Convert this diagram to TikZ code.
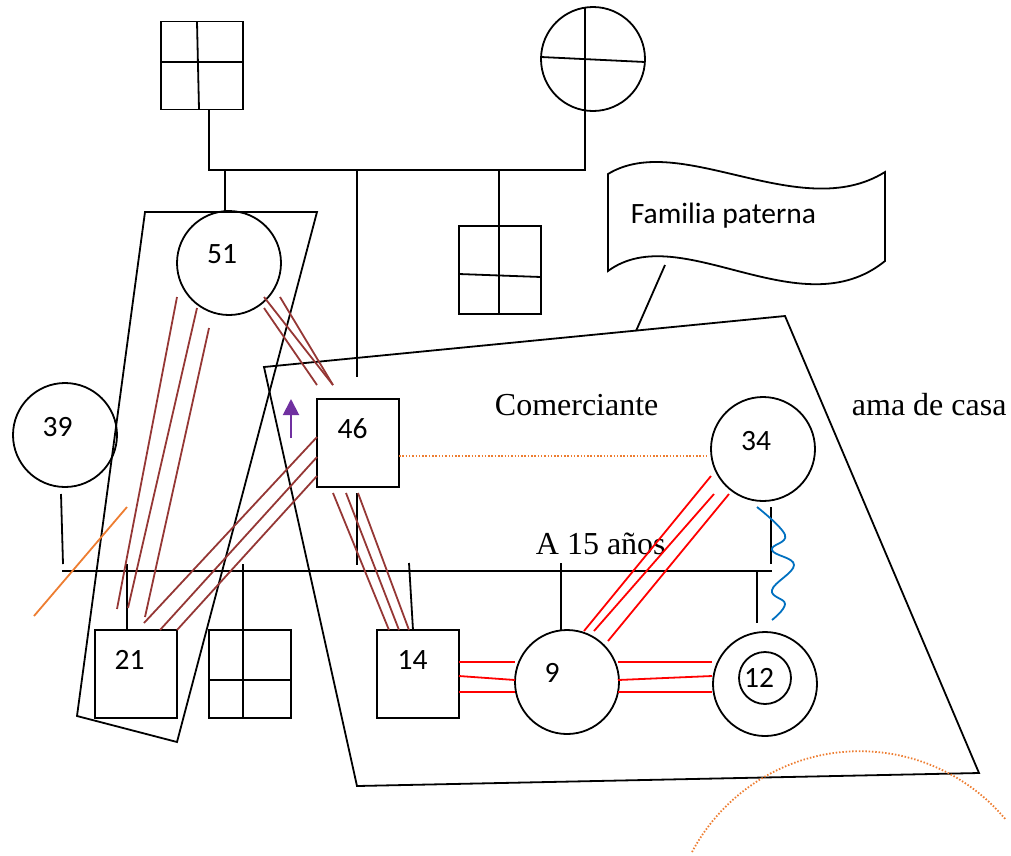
\documentclass[tikz,border=0pt]{standalone}
\usepackage{fontspec}
\setmainfont{Liberation Serif}
\newfontfamily\calib{Carlito}
\usetikzlibrary{arrows.meta}
\definecolor{brn}{RGB}{149,55,53}
\definecolor{org}{RGB}{237,125,49}
\definecolor{blu}{RGB}{0,112,192}
\definecolor{pur}{RGB}{112,48,160}
\definecolor{rd}{RGB}{255,0,0}
\begin{document}
\begin{tikzpicture}[x=1pt,y=-1pt, line width=1.8pt,
  person/.style={draw, line width=1.8pt, inner sep=0pt},
  sq/.style={person, rectangle, minimum width=82pt, minimum height=88pt},
  circ/.style={person, circle, minimum size=104pt},
  num/.style={font=\calib\fontsize{29.5}{34}\selectfont, inner sep=0pt, anchor=base},
  tms/.style={font=\fontsize{32}{38}\selectfont, inner sep=0pt, anchor=base west},
  brline/.style={brn, line width=1.8pt},
  rdline/.style={rd, line width=1.8pt},
  orgdot/.style={org, line width=1.8pt, dash pattern=on 1.5pt off 1.8pt}
]
\useasboundingbox (0,0) rectangle (1011,855);

% grandparents
\node[sq] (gf) at (202,65.5) {};
\draw (197,22) -- (199,109);
\draw (161,62) -- (243,62);
\node[circ] (gm) at (593,59) {};
\draw (541,57) -- (645,62);
\coordinate (famL) at (209,170);
\coordinate (famR) at (585,170);
\draw (585,7.6) -- (famR) -- (famL) -- (209,109);

% uncle
\node[sq] (u1) at (500,270) {};
\draw (499,170) -- (u1.south -| 499,0);
\draw (459,274) -- (541,277);

% left trapezoid
\draw (145,212) -- (317,212) -- (177,742) -- (77,716) -- cycle;
% right trapezoid
\draw (264,367) -- (785,316) -- (979,773) -- (357,786) -- cycle;

% banner
\draw (608,174) .. controls (680,130) and (800,225) .. (885,172) -- (885,261)
      .. controls (800,330) and (680,218) .. (608,271) -- cycle;
\node[font=\calib\fontsize{29.5}{34}\selectfont, inner sep=0pt, anchor=base west] (fp) at (630,223) {Familia paterna};
\draw (665,265) -- (636,331);

% 51
\node[circ] (p51) at (229,263) {};
\node[num] at (222,263) {51};
\draw (225,170) -- (225,212);

% 46
\node[sq] (p46) at (358,443) {};
\node[num] at (352.5,438.7) {46};
\draw (357,170) -- (357,377);
\draw (357,493) -- (357,565);

% 39
\node[circ] (p39) at (65,435) {};
\node[num] at (57.5,436) {39};
\draw (61,494) -- (63,564);

% 34
\node[circ] (p34) at (763,449) {};
\node[num] at (756,450) {34};
\draw (771,507) -- (771,564);

% children line
\draw (62,571) -- (772,571);

% children
\node[sq] (p21) at (136,674) {};
\node[num] at (129.5,669) {21};
\draw (127,564) -- (127,630);

\node[sq] (s2) at (250,674) {};
\draw (243,564) -- (243,718);
\draw (209,680) -- (291,680);

\node[sq] (p14) at (418,674) {};
\node[num] at (412.5,669) {14};
\draw (409,563) -- (413,630);

\node[circ] (p9) at (567,682) {};
\node[num] at (552,682) {9};
\draw (561,563) -- (561,630);

\node[circ] (p12) at (765,684) {};
\draw (765,678) circle[radius=26];
\node[num] at (759,687) {12};
\draw (757,571) -- (757,623);

% texts
\node[tms] at (494,415) {Comerciante};
\node[tms] at (851,415) {ama de casa};
\node[tms] at (535,554) {A 15 años};

% brown relationship lines
\draw[brline] (177,297) -- (117,609);
\draw[brline] (197,308) -- (128,608);
\draw[brline] (209,328) -- (145,617);
\draw[brline] (317,437) -- (144,623);
\draw[brline] (317,457) -- (160,630);
\draw[brline] (317,476) -- (177,630);
\draw[brline] (264,308) -- (317,385);
\draw[brline] (264,297) -- (333,385);
\draw[brline] (280,297) -- (333,385);
\draw[brline] (333,493) -- (389,630);
\draw[brline] (346,493) -- (399,630);
\draw[brline] (358,493) -- (409,630);

% red relationship lines
\draw[rdline] (459,662) -- (515,662);
\draw[rdline] (459,676) -- (515,680);
\draw[rdline] (459,692) -- (515,692);
\draw[rdline] (618,662) -- (712,662);
\draw[rdline] (618,680) -- (712,676);
\draw[rdline] (618,692) -- (712,692);
\draw[rdline] (584,631) -- (711,476);
\draw[rdline] (594,631) -- (714,494);
\draw[rdline] (608,641) -- (729,494);

% orange
\draw[org, line width=1.8pt] (127,507) -- (34,616);
\draw[orgdot] (399,456) -- (709,456);
\draw[orgdot] (692,852) arc[start angle=-152, end angle=-40, radius=190];

% blue wave
\draw[blu, line width=1.8pt] plot[smooth, tension=0.7] coordinates
  {(757,507) (785,535) (772,550) (794,565) (772,590) (785,604) (772,620)};

% purple arrow
\draw[pur, line width=2pt, -{Triangle[length=16pt,width=16pt]}] (291,438) -- (291,399);
\end{tikzpicture}
\end{document}
